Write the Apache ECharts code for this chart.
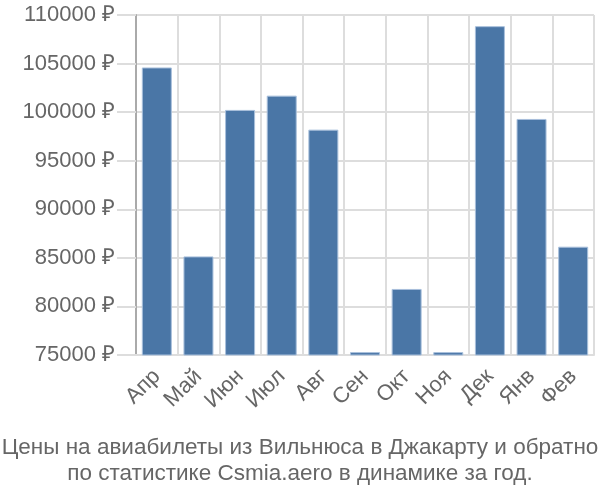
<!DOCTYPE html>
<html><head><meta charset="utf-8">
<script src="https://cdn.jsdelivr.net/npm/echarts@6/dist/echarts.min.js"></script>
<style>html,body{margin:0;padding:0;background:#fff}#c{width:600px;height:500px}</style>
</head><body><div id="c"></div>
<script>
const categories = ['Апр','Май','Июн','Июл','Авг','Сен','Окт','Ноя','Дек','Янв','Фев'];
const prices = [104600, 85150, 100230, 101700, 98200, 75300, 81800, 75300, 108850, 99300, 86150];
const yMin = 75000, yMax = 110000, yStep = 5000;
const titleLines = ['Цены на авиабилеты из Вильнюса в Джакарту и обратно','по статистике Csmia.aero в динамике за год.'];

const font = 'Liberation Sans, Arial, sans-serif';
const chart = echarts.init(document.getElementById('c'));
chart.setOption({
  animation: false,
  textStyle: {fontFamily: font},
  title: {
    text: titleLines.join('\n'),
    left: 'center', bottom: 8,
    textStyle: {fontFamily: font, fontSize: 22.5, fontWeight: 'normal', color: '#666', lineHeight: 26}
  },
  grid: {left: 136, right: 6, top: 15, bottom: 145},
  xAxis: {
    type: 'category', data: categories,
    axisLine: {lineStyle: {color: '#ddd', width: 2}},
    axisTick: {length: 19, lineStyle: {color: '#ddd', width: 2}},
    splitLine: {show: true, lineStyle: {color: '#ddd', width: 2}},
    axisLabel: {rotate: 45, fontSize: 22, color: '#666', margin: 18, fontFamily: font}
  },
  yAxis: {
    type: 'value', min: yMin, max: yMax, interval: yStep,
    axisLine: {show: true, lineStyle: {color: '#aaa', width: 2}},
    axisTick: {show: true, length: 19, lineStyle: {color: '#ddd', width: 2}},
    splitLine: {lineStyle: {color: '#ddd', width: 2}},
    axisLabel: {formatter: v => v + ' ₽', fontSize: 22, color: '#666', margin: 21, fontFamily: font}
  },
  series: [{
    type: 'bar', data: prices, barWidth: 30,
    itemStyle: {color: '#4a76a6', borderColor: '#a9c0dc', borderWidth: 1}
  }]
});
</script></body></html>
